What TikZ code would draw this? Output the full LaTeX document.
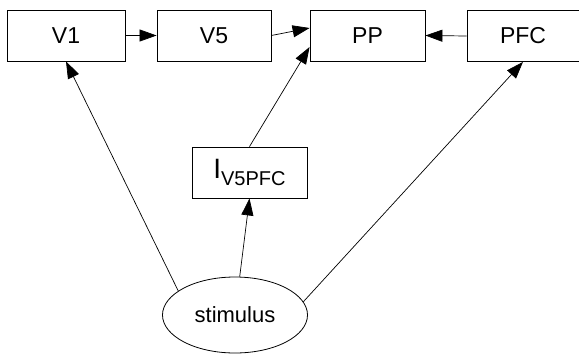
\documentclass[tikz,border=0pt]{standalone}
\usepackage{fontspec}
\setmainfont{Liberation Sans}
\usetikzlibrary{arrows.meta,shapes.geometric}
\begin{document}
\begin{tikzpicture}[x=1pt,y=-1pt,
  box/.style={draw, line width=0.8pt, minimum height=51pt, inner sep=0pt,
    font=\fontsize{23}{27}\selectfont},
  oval/.style={draw, ellipse, line width=0.8pt, minimum width=145pt, minimum height=76pt,
    inner sep=0pt, font=\fontsize{22}{26}\selectfont},
  arr/.style={-{Triangle[length=17pt,width=12pt]}, line width=0.7pt}]
\useasboundingbox (0,0) rectangle (579,356);
\node[box, minimum width=118pt] (v1) at (66,35.5) {V1};
\node[box, minimum width=114pt] (v5) at (214,35.5) {V5};
\node[box, minimum width=115pt] (pp) at (367.5,35.5) {PP};
\node[box, minimum width=112pt] (pfc) at (523,36) {PFC};
\node[box, minimum width=115pt] (ivp) at (249.5,172.5)
  {{\fontsize{28}{30}\selectfont I}\raisebox{-7pt}{\fontsize{20}{24}\selectfont V5PFC}};
\node[oval] (stim) at (235,315) {stimulus};
\draw[arr] (v1.east) -- (v5.west);
\draw[arr] (v5.east) -- ([yshift=7.5pt]pp.west);
\draw[arr] (pfc.west) -- (pp.east);
\draw[arr] (ivp.north) -- ([yshift=-11.5pt]pp.west);
\draw[arr] (stim.157) -- (v1.south);
\draw[arr] (stim.83) -- (ivp.south);
\draw[arr] (stim.11) -- (pfc.south);
\end{tikzpicture}
\end{document}
